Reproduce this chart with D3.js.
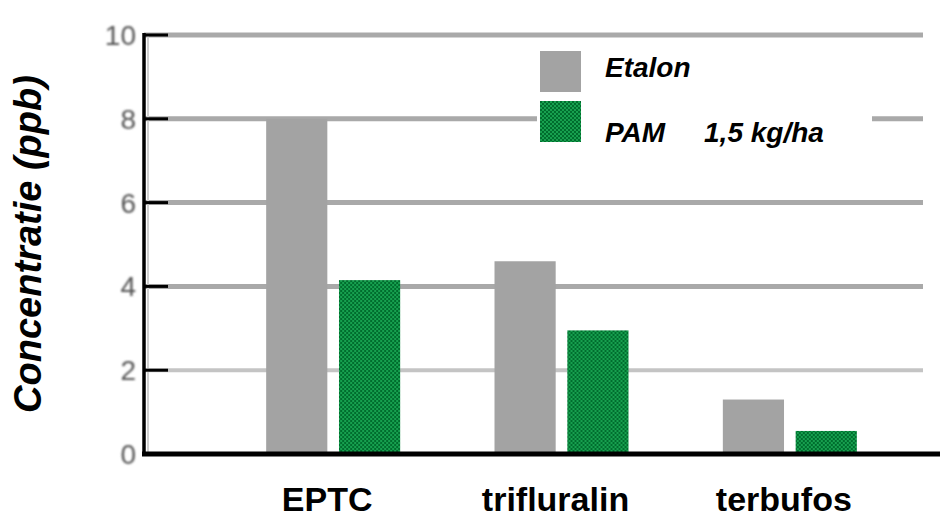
<!DOCTYPE html>
<html>
<head>
<meta charset="utf-8">
<script src="https://cdn.jsdelivr.net/npm/d3@7"></script>
<style>
	body { margin: 0; background: #fff; }
	svg { display: block; font-family: Arial, "Liberation Sans", sans-serif; }
</style>
</head>
<body>
<div id="chart"></div>
<script>
// chart values
var categories = ["EPTC", "trifluralin", "terbufos"];
var seriesNames = ["Etalon", "PAM     1,5 kg/ha"];
var etalon = [8.0, 4.6, 1.3];
var pam = [4.15, 2.95, 0.55];
var yTicks = [0, 2, 4, 6, 8, 10];

var W = 940, H = 520;
var colors = ["#a3a3a3", "#0b8a3e"];

var svg = d3.select("#chart").append("svg")
			.attr("width", W)
			.attr("height", H);

// checkered green fill like the scanned bars
var defs = svg.append("defs");
var pat = defs.append("pattern")
			  .attr("id", "green")
			  .attr("width", 4)
			  .attr("height", 4)
			  .attr("patternUnits", "userSpaceOnUse");
pat.append("rect").attr("width", 4).attr("height", 4).attr("fill", "#17a04f");
pat.append("rect").attr("width", 2).attr("height", 2).attr("fill", "#006d2e");
pat.append("rect").attr("x", 2).attr("y", 2).attr("width", 2).attr("height", 2).attr("fill", "#006d2e");

var blur = defs.append("filter").attr("id", "soft");
blur.append("feGaussianBlur").attr("stdDeviation", 0.8);

var x0 = 144, x1 = 923;

var y = d3.scaleLinear().domain([0, 10]).range([454, 35]);

var x = d3.scaleBand().domain(categories).range([219, 904]);

var xs = d3.scaleBand().domain([0, 1]).range([0, 134]).paddingInner(0.16);

// grid lines
var grid = svg.append("g").attr("class", "grid");

grid.selectAll("line")
	.data(yTicks.filter(d => d > 0))
	.enter().append("line")
	.attr("x1", x0)
	.attr("x2", x1)
	.attr("y1", d => y(d))
	.attr("y2", d => y(d))
	.attr("stroke", d => d == 2 ? "#c4c4c4" : "#a9a9a9")
	.attr("stroke-width", d => d == 2 ? 4 : 5);

// legend background breaks the line at 8
svg.append("rect")
   .attr("x", 537)
   .attr("y", 44)
   .attr("width", 335)
   .attr("height", 106)
   .attr("fill", "#fff");

// bars
var data = categories.map(function(c, i) {
	return { cat: c, values: [etalon[i], pam[i]] };
});

var groups = svg.selectAll(".grp")
				.data(data)
				.enter().append("g")
				.attr("class", "grp")
				.attr("transform", d => "translate(" + (x(d.cat) + x.bandwidth() / 2 - 67) + ",0)");

groups.selectAll("rect")
	  .data(d => d.values)
	  .enter().append("rect")
	  .attr("x", (d, i) => xs(i))
	  .attr("width", xs.bandwidth())
	  .attr("y", d => y(d))
	  .attr("height", d => y(0) - y(d))
	  .attr("fill", (d, i) => i == 0 ? colors[0] : "url(#green)");

// axis
var yAxis = svg.append("g");

yAxis.append("line")
	 .attr("x1", x0 + 4).attr("x2", x0 + 4)
	 .attr("y1", y(10)).attr("y2", y(0))
	 .attr("stroke", "#d0d0d0")
	 .attr("stroke-width", 2);

yAxis.append("line")
	 .attr("x1", x0).attr("x2", x0)
	 .attr("y1", y(10) - 2).attr("y2", y(0) + 2)
	 .attr("stroke", "#000")
	 .attr("stroke-width", 3.5);

yAxis.selectAll(".tick")
	 .data(yTicks.filter(d => d > 0))
	 .enter().append("line")
	 .attr("x1", x0)
	 .attr("x2", 168)
	 .attr("y1", d => y(d))
	 .attr("y2", d => y(d))
	 .attr("stroke", "#000")
	 .attr("stroke-width", 3);

yAxis.selectAll(".lbl")
	 .data(yTicks)
	 .enter().append("text")
	 .attr("x", 136)
	 .attr("y", d => y(d))
	 .attr("dy", "0.36em")
	 .attr("text-anchor", "end")
	 .attr("font-size", 28)
	 .attr("fill", "#555")
	 .attr("filter", "url(#soft)")
	 .text(d => d);

// baseline
svg.append("line")
   .attr("x1", x0 - 2)
   .attr("x2", W)
   .attr("y1", y(0))
   .attr("y2", y(0))
   .attr("stroke", "#000")
   .attr("stroke-width", 5);

// category labels
svg.selectAll(".cat")
   .data(categories)
   .enter().append("text")
   .attr("x", d => x(d) + x.bandwidth() / 2 - 6)
   .attr("y", 511)
   .attr("text-anchor", "middle")
   .attr("font-size", 34)
   .attr("font-weight", "bold")
   .text(d => d);

// y title
svg.append("text")
   .attr("transform", "translate(41,244) rotate(-90)")
   .attr("text-anchor", "middle")
   .attr("font-size", 38)
   .attr("font-weight", "bold")
   .attr("font-style", "italic")
   .text("Concentratie (ppb)");

// legend
var legend = svg.selectAll(".legend")
				.data(seriesNames)
				.enter().append("g")
				.attr("class", "legend")
				.attr("transform", (d, i) => "translate(540," + (51 + i * 50) + ")");

legend.append("rect")
	  .attr("width", 41)
	  .attr("height", 41)
	  .attr("fill", (d, i) => i == 0 ? colors[0] : "url(#green)");

legend.append("text")
	  .attr("x", 65)
	  .attr("y", (d, i) => i == 0 ? 26 : 41)
	  .attr("font-size", 28)
	  .attr("font-weight", "bold")
	  .attr("font-style", "italic")
	  .attr("xml:space", "preserve")
	  .style("white-space", "pre")
	  .text(d => d);
</script>
</body>
</html>
